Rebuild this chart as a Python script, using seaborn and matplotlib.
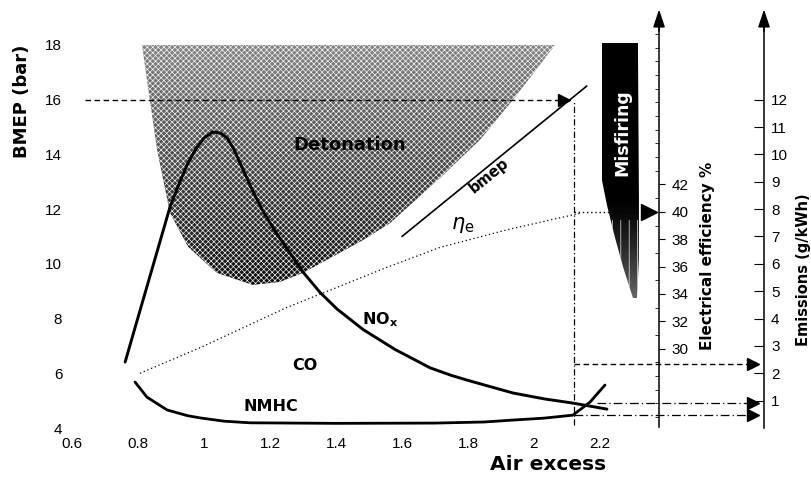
import numpy as np
import matplotlib
matplotlib.use("Agg")
import matplotlib.pyplot as plt
from matplotlib.patches import Polygon
from matplotlib.ticker import FixedLocator, MultipleLocator
import seaborn as sns

# ---- data -----------------------------------------------------------------
# NOx emissions (g/kWh) against air excess ratio
nox_lambda = [0.761, 0.800, 0.850, 0.897, 0.927, 0.950, 0.975, 1.000, 1.027,
              1.050, 1.070, 1.090, 1.120, 1.150, 1.180, 1.215, 1.252, 1.300,
              1.352, 1.403, 1.482, 1.579, 1.685, 1.750, 1.806, 1.936, 2.033,
              2.118, 2.221]
nox_g = [2.41, 4.04, 6.12, 8.08, 9.00, 9.65, 10.20, 10.60, 10.82,
         10.78, 10.60, 10.20, 9.40, 8.60, 7.90, 7.20, 6.55, 5.70,
         4.95, 4.35, 3.60, 2.87, 2.20, 1.92, 1.72, 1.28, 1.06,
         0.91, 0.69]

# NMHC emissions (g/kWh)
nmhc_lambda = [0.791, 0.827, 0.888, 0.950, 0.988, 1.060, 1.139, 1.400, 1.700,
               1.850, 1.936, 2.030, 2.118, 2.170, 2.215]
nmhc_g = [1.68, 1.13, 0.66, 0.45, 0.37, 0.25, 0.19, 0.17, 0.18,
          0.22, 0.29, 0.36, 0.47, 0.95, 1.57]

# electrical efficiency (%)
eff_lambda = [0.806, 1.0, 1.25, 1.56, 1.715, 1.92, 2.14]
eff_pct = [28.2, 30.2, 33.0, 36.0, 37.4, 38.7, 39.9]

# brake mean effective pressure (bar)
bmep_lambda = [1.60, 2.16]
bmep_bar = [11.0, 16.5]

# operating point
lam_op = 2.12
bmep_op = 16
eff_op = 40
co_op = 2.35

# knock (detonation) limit region, BMEP vs air excess
deto_lambda = [0.812, 0.858, 0.897, 0.952, 1.039, 1.148, 1.230, 1.300, 1.482,
               1.564, 1.715, 1.836, 1.936, 2.064]
deto_bmep = [18.0, 14.16, 11.86, 10.62, 9.67, 9.23, 9.34, 9.67, 10.87,
             11.49, 13.14, 14.53, 15.99, 18.0]

# misfiring region
misf_lambda = [2.206, 2.315, 2.318, 2.318, 2.312, 2.300, 2.270, 2.245, 2.221, 2.206]
misf_bmep = [18.07, 18.07, 12.33, 10.14, 8.75, 8.75, 9.88, 10.98, 12.15, 13.06]

x_ticks = [0.6, 0.8, 1.0, 1.2, 1.4, 1.6, 1.8, 2.0, 2.2]
x_labels = ["0.6", "0.8", "1", "1.2", "1.4", "1.6", "1.8", "2", "2.2"]
bmep_ticks = [4, 6, 8, 10, 12, 14, 16, 18]
eff_ticks = [30, 32, 34, 36, 38, 40, 42]
em_ticks = list(range(1, 13))

# position of the two secondary scales along the air-excess axis
eff_axis_x = 2.379
em_axis_x = 2.697


def bmep_to_eff(b):
    return 2 * b + 16.2


def bmep_to_em(b):
    return b - 4


# ---- figure ----------------------------------------------------------------
sns.set_theme(style="white")
plt.rcParams["font.family"] = ["Liberation Sans", "DejaVu Sans"]
plt.rcParams["hatch.linewidth"] = 0.45
for key in ("text.color", "axes.labelcolor", "xtick.color", "ytick.color"):
    plt.rcParams[key] = "black"

W, H = 812, 482
fig = plt.figure(figsize=(W / 100, H / 100), dpi=100)

x0, x1 = 0.6, 2.75
y0, y1 = 4.0, 19.3
px_x0, px_x1 = 72, 72 + (x1 - x0) * 330
px_y0, px_y1 = 428, 428 - (y1 - y0) * 27.36
ax = fig.add_axes([px_x0 / W, 1 - px_y0 / H, (px_x1 - px_x0) / W, (px_y0 - px_y1) / H])
ax.set_xlim(x0, x1)
ax.set_ylim(y0, y1)
for s in ax.spines.values():
    s.set_visible(False)
ax.set_xticks(x_ticks)
ax.set_xticklabels(x_labels)
ax.set_yticks(bmep_ticks)
ax.tick_params(axis="both", length=0, labelsize=11, colors="black")
ax.tick_params(axis="x", pad=6.5)
ax.tick_params(axis="y", pad=7)
ax.set_xlabel("")
ax.set_ylabel("")

# detonation region with darkening shade towards low BMEP
deto_xy = np.column_stack([deto_lambda, deto_bmep])
deto_poly = Polygon(deto_xy, closed=True, facecolor="none", edgecolor="none")
ax.add_patch(deto_poly)
grad = np.linspace(0.52, 0.05, 256)[:, None] * np.ones((1, 16))
img = ax.imshow(grad, cmap="gray", vmin=0, vmax=1, aspect="auto",
                extent=[min(deto_lambda), max(deto_lambda), min(deto_bmep), max(deto_bmep)],
                zorder=1, interpolation="bilinear")
img.set_clip_path(deto_poly)
ax.add_patch(Polygon(deto_xy, closed=True, facecolor="none", edgecolor="white",
                     linewidth=0, hatch="xxxxxx", zorder=1.5))

# misfiring region: solid black fading out at the lower tip
misf_xy = np.column_stack([misf_lambda, misf_bmep])
misf_poly = Polygon(misf_xy, closed=True, facecolor="none", edgecolor="none")
ax.add_patch(misf_poly)
bb = np.linspace(max(misf_bmep), min(misf_bmep), 256)
shade = np.clip((12.4 - bb) / (12.4 - min(misf_bmep)), 0, 1) ** 1.3 * 0.4
mimg = ax.imshow(shade[:, None] * np.ones((1, 8)), cmap="gray", vmin=0, vmax=1,
                 aspect="auto", zorder=1,
                 extent=[min(misf_lambda), max(misf_lambda), min(misf_bmep), max(misf_bmep)],
                 interpolation="bilinear")
mimg.set_clip_path(misf_poly)
lower = misf_xy[misf_xy[:, 1] < 12.5]
lower = np.vstack([[min(misf_lambda), 11.6], [max(misf_lambda), 11.6],
                   lower[np.argsort(-lower[:, 0])]])
ax.add_patch(Polygon(lower, closed=True, facecolor="none", edgecolor="white",
                     linewidth=0, hatch="||", zorder=1.5))
ax.text(2.267, 14.8, "Misfiring", rotation=90, color="white", fontsize=12.5,
        fontweight="bold", family="DejaVu Sans", ha="center", va="center", zorder=3)

# BMEP line
sns.lineplot(x=bmep_lambda, y=bmep_bar, ax=ax, color="black", lw=1.2, zorder=4)

# secondary scales
ax_e = ax.twinx()
ax_m = ax.twinx()
ax_e.set_ylim(bmep_to_eff(y0), bmep_to_eff(y1))
ax_m.set_ylim(bmep_to_em(y0), bmep_to_em(y1))
for a, xpos in ((ax_e, eff_axis_x), (ax_m, em_axis_x)):
    for k, s in a.spines.items():
        s.set_visible(k == "right")
    a.spines["right"].set_position(("data", xpos))
    a.spines["right"].set_linewidth(1.1)
    a.spines["right"].set_color("black")
    a.grid(False)

ax_e.spines["right"].set_bounds(bmep_to_eff(4.04), bmep_to_eff(18.9))
ax_e.yaxis.set_major_locator(FixedLocator(eff_ticks))
ax_e.yaxis.set_minor_locator(MultipleLocator(1))
ax_e.tick_params(axis="y", which="major", direction="out", length=4, width=0.8,
                 pad=5, labelsize=11, colors="black")
ax_e.tick_params(axis="y", which="minor", direction="in", length=3, width=0.6,
                 right=True, colors="black")

ax_m.spines["right"].set_bounds(0, bmep_to_em(18.9))
ax_m.yaxis.set_major_locator(FixedLocator(em_ticks))
ax_m.tick_params(axis="y", which="major", direction="in", length=7, width=0.8,
                 pad=5, labelsize=11, colors="black")

# axis arrowheads
for xpos in (eff_axis_x, em_axis_x):
    ax.annotate("", xy=(xpos, 19.3), xytext=(xpos, 18.5),
                arrowprops=dict(arrowstyle="-|>,head_length=0.9,head_width=0.3",
                                color="black", lw=1.1, shrinkA=0, shrinkB=0),
                annotation_clip=False, zorder=5)

# emission and efficiency curves
sns.lineplot(x=nox_lambda, y=nox_g, ax=ax_m, color="black", lw=2.1, zorder=4)
sns.lineplot(x=nmhc_lambda, y=nmhc_g, ax=ax_m, color="black", lw=2.0, zorder=4)
sns.lineplot(x=eff_lambda, y=eff_pct, ax=ax_e, color="black", lw=0.9,
             linestyle=(0, (1, 2.2)), zorder=4)

# operating point construction
lam_at_16 = np.interp(bmep_op, bmep_bar, bmep_lambda)
ax.plot([0.639, lam_at_16 - 0.02], [bmep_op, bmep_op], color="black", lw=1.0,
        linestyle=(0, (4, 2.5)), zorder=4)
ax.plot([lam_at_16 - 0.018], [bmep_op], marker=">", ms=8, color="black", zorder=5)
ax.plot([lam_op, lam_op], [y0 + 0.1, bmep_op], color="black", lw=0.9,
        linestyle=(0, (5, 2, 1, 2)), zorder=4)

nox_op = np.interp(lam_op, nox_lambda, nox_g)
nmhc_op = np.interp(lam_op, nmhc_lambda, nmhc_g)
tip = em_axis_x - 0.015
ax_m.plot([lam_op, tip - 0.03], [co_op, co_op], color="black", lw=1.0,
          linestyle=(0, (4, 2.5)), zorder=4)
ax_m.plot([lam_op + 0.07, tip - 0.03], [nox_op, nox_op], color="black", lw=0.9,
          linestyle=(0, (7, 2.5, 1, 2.5)), zorder=4)
ax_m.plot([lam_op, tip - 0.03], [nmhc_op, nmhc_op], color="black", lw=0.9,
          linestyle=(0, (7, 2.5, 1, 2.5)), zorder=4)
for g in (co_op, nox_op, nmhc_op):
    ax_m.plot([tip - 0.018], [g], marker=">", ms=9, color="black", zorder=5)

ax_e.plot([lam_op, eff_axis_x - 0.04], [eff_op, eff_op], color="black", lw=1.0,
          linestyle=(0, (1, 2)), zorder=4)
ax_e.plot([eff_axis_x - 0.03], [eff_op], marker=">", ms=12, color="black", zorder=5)

# in-plot labels
ax.text(1.441, 14.34, "Detonation", fontsize=13, fontweight="bold",
        family="DejaVu Sans", ha="center", va="center", zorder=6, color="black")
ax.text(1.864, 13.21, "bmep", fontsize=10.5, fontweight="bold", rotation=39,
        family="DejaVu Sans", ha="center", va="center", zorder=6, color="black")
ax.text(1.785, 11.42, r"$\eta_{\mathrm{e}}$", fontsize=15, ha="center",
        va="center", zorder=6, color="black")
ax.text(1.479, 7.95, r"NO$_{\mathbf{x}}$", fontsize=11.5, fontweight="bold",
        family="DejaVu Sans", ha="left", va="center", zorder=6, color="black")
ax.text(1.306, 6.27, "CO", fontsize=11.5, fontweight="bold",
        family="DejaVu Sans", ha="center", va="center", zorder=6, color="black")
ax.text(1.203, 4.80, "NMHC", fontsize=11.5, fontweight="bold",
        family="DejaVu Sans", ha="center", va="center", zorder=6, color="black")

# axis titles
fig.text(22 / W, 1 - 101 / H, "BMEP (bar)", rotation=90, fontsize=13,
         fontweight="bold", family="DejaVu Sans", ha="center", va="center")
fig.text(548 / W, 1 - 465 / H, "Air excess", fontsize=14.5, fontweight="bold",
         family="DejaVu Sans", ha="center", va="center")
fig.text(708 / W, 1 - 256 / H, "Electrical efficiency %", rotation=90,
         fontsize=11, fontweight="bold", family="DejaVu Sans", ha="center", va="center")
fig.text(804 / W, 1 - 270 / H, "Emissions (g/kWh)", rotation=90,
         fontsize=10.5, fontweight="bold", family="DejaVu Sans", ha="center", va="center")

fig.savefig("out.png", dpi=100)
